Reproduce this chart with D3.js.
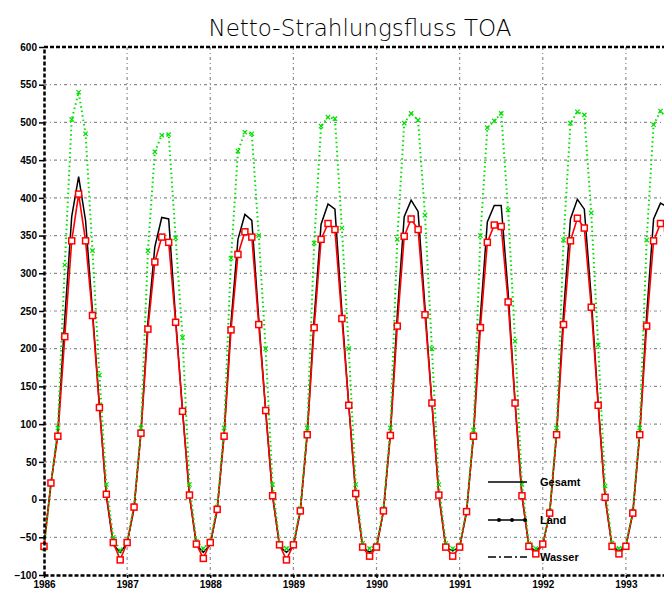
<!DOCTYPE html>
<html>
<head>
<meta charset="utf-8">
<script src="https://cdn.jsdelivr.net/npm/d3@7"></script>
<style>
  body { margin: 0; background: #fff; }
  .grid line { stroke: #8c8c8c; stroke-width: 1.2; stroke-dasharray: 3,3,1,3; }
  .axis text { font-family: "Liberation Sans", Arial, sans-serif; font-size: 10px; font-weight: bold; fill: #000; }
  .axis line { stroke: #000; stroke-width: 1.5; }
  .axis path { stroke: #000; stroke-width: 2.5; stroke-dasharray: 4,2; }
  .line { fill: none; }
  .gesamt { stroke: #000; stroke-width: 1.5; }
  .wasser { stroke: #ff0000; stroke-width: 1.6; }
  .land { stroke: #00e000; stroke-width: 2; stroke-dasharray: 1.5,3; }
  .legend text { font-family: "Liberation Sans", Arial, sans-serif; font-size: 11px; font-weight: bold; }
</style>
</head>
<body>
<script>
// tick labels
var years = [1986, 1987, 1988, 1989, 1990, 1991, 1992, 1993];
var yTicks = [-100, -50, 0, 50, 100, 150, 200, 250, 300, 350, 400, 450, 500, 550, 600];

// monthly values, first point at Jan 1986
var gesamt = [
  -60, 20, 90, 240, 375, 428, 370, 250, 125, 5, -60, -70,
  -58, -12, 90, 235, 335, 374, 372, 240, 118, 5, -60, -70,
  -60, -14, 88, 235, 345, 378, 370, 240, 118, 5, -62, -70,
  -62, -16, 88, 240, 365, 392, 385, 250, 125, 7, -63, -70,
  -63, -16, 88, 245, 375, 397, 382, 255, 128, 6, -63, -68,
  -63, -17, 86, 243, 368, 390, 390, 275, 130, 5, -62, -68,
  -60, -18, 88, 248, 372, 398, 385, 268, 128, 3, -62, -68,
  -62, -18, 88, 245, 372, 393, 388
];
var land = [
  -65, 20, 95, 311, 504, 540, 485, 330, 165, 20, -50, -68,
  -55, -8, 95, 330, 461, 483, 484, 347, 215, 20, -55, -65,
  -55, -10, 95, 320, 462, 487, 485, 350, 200, 20, -58, -65,
  -58, -12, 95, 340, 495, 507, 505, 360, 200, 20, -58, -65,
  -60, -12, 95, 345, 499, 512, 503, 377, 200, 20, -58, -65,
  -60, -14, 92, 350, 493, 502, 512, 384, 210, 20, -58, -65,
  -58, -15, 95, 344, 499, 514, 510, 380, 205, 18, -58, -65,
  -60, -15, 95, 344, 497, 515, 505
];
var wasser = [
  -62, 22, 84, 216, 343, 405, 343, 244, 122, 7, -57, -80,
  -57, -10, 88, 226, 315, 348, 341, 235, 117, 6, -59, -78,
  -57, -13, 84, 225, 325, 355, 348, 232, 118, 5, -60, -80,
  -60, -15, 86, 228, 345, 366, 358, 240, 125, 8, -63, -75,
  -63, -15, 85, 230, 349, 372, 358, 245, 128, 6, -63, -75,
  -63, -16, 84, 228, 341, 364, 362, 262, 128, 5, -62, -72,
  -59, -18, 86, 232, 343, 373, 360, 255, 125, 3, -62, -72,
  -62, -18, 86, 230, 343, 366, 360
];

var margin = {top: 47, left: 44},
    width = 665,
    height = 528;

var svg = d3.select("body").append("svg")
    .attr("width", 664)
    .attr("height", 590);

// title
svg.append("text")
    .attr("x", 360)
    .attr("y", 36)
    .attr("text-anchor", "middle")
    .style("font-family", "DejaVu Sans")
    .style("font-weight", 200)
    .style("font-size", "23px")
    .text("Netto-Strahlungsfluss TOA");

var g = svg.append("g")
    .attr("transform", "translate(" + margin.left + "," + margin.top + ")");

// set the ranges
var x = d3.scaleLinear().domain([1986, 1994]).range([0, width]);
var y = d3.scaleLinear().domain([-100, 600]).range([height, 0]);

function month(i) { return 1986 + i / 12; }

// grid
g.append("g").attr("class", "grid")
  .selectAll("line").data(yTicks.filter(function(d) { return d > -100 && d < 600; }))
  .enter().append("line")
    .attr("x1", 0).attr("x2", width)
    .attr("y1", function(d) { return y(d); })
    .attr("y2", function(d) { return y(d); });

g.append("g").attr("class", "grid")
  .selectAll("line").data(years.slice(1))
  .enter().append("line")
    .attr("x1", function(d) { return x(d); })
    .attr("x2", function(d) { return x(d); })
    .attr("y1", 0).attr("y2", height);

// define the lines
function makeLine(values) {
  return d3.line()
    .x(function(d, i) { return x(month(i)); })
    .y(function(d) { return y(d); })(values);
}

g.append("path").attr("class", "line gesamt").attr("d", makeLine(gesamt));
g.append("path").attr("class", "line wasser").attr("d", makeLine(wasser));
g.append("path").attr("class", "line land").attr("d", makeLine(land));

// land markers (small x)
g.append("g").selectAll("path").data(land)
  .enter().append("path")
    .attr("transform", function(d, i) { return "translate(" + x(month(i)) + "," + y(d) + ")"; })
    .attr("d", d3.symbol().type(d3.symbolX).size(14))
    .attr("stroke", "#00e000")
    .attr("stroke-width", 1.2)
    .attr("fill", "none");

// wasser squares
g.append("g").selectAll("rect").data(wasser)
  .enter().append("rect")
    .attr("x", function(d, i) { return x(month(i)) - 3; })
    .attr("y", function(d) { return y(d) - 3; })
    .attr("width", 6)
    .attr("height", 6)
    .attr("fill", "#fff")
    .attr("stroke", "#ff0000")
    .attr("stroke-width", 1.5);

// axes
g.append("g").attr("class", "axis")
    .call(d3.axisLeft(y).tickValues(yTicks).tickSize(5).tickSizeOuter(0).tickPadding(2));

g.append("g").attr("class", "axis")
    .attr("transform", "translate(0," + height + ")")
    .call(d3.axisBottom(x).tickValues(years).tickFormat(d3.format("d")).tickSize(3).tickSizeOuter(0).tickPadding(3));

// top border
g.append("line")
    .attr("x1", 0).attr("x2", width)
    .attr("y1", 0).attr("y2", 0)
    .attr("stroke", "#000")
    .attr("stroke-width", 2.5)
    .attr("stroke-dasharray", "4,2");

// legend
var legend = svg.append("g").attr("class", "legend");
var entries = [
  {name: "Gesamt", y: 482, dash: null, dots: false},
  {name: "Land", y: 520, dash: null, dots: true},
  {name: "Wasser", y: 557, dash: "8,3,2,3", dots: false}
];
entries.forEach(function(e) {
  legend.append("line")
    .attr("x1", 488).attr("x2", 527)
    .attr("y1", e.y).attr("y2", e.y)
    .attr("stroke", "#000")
    .attr("stroke-width", 1.5)
    .attr("stroke-dasharray", e.dash);
  if (e.dots) {
    [499, 512, 525].forEach(function(px) {
      legend.append("circle").attr("cx", px).attr("cy", e.y).attr("r", 2).attr("fill", "#000");
    });
  }
  legend.append("text")
    .attr("x", 540).attr("y", e.y + 4)
    .text(e.name);
});
</script>
</body>
</html>
